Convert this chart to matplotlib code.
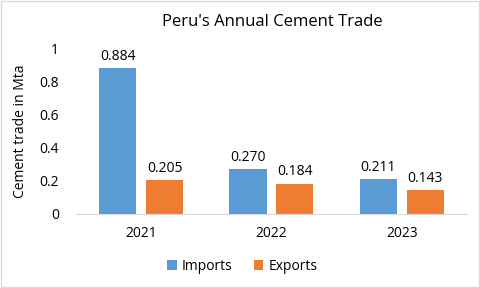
import numpy as np
import matplotlib
matplotlib.use("Agg")
import matplotlib.pyplot as plt

years = ["2021", "2022", "2023"]
imports = [0.884, 0.270, 0.211]
exports = [0.205, 0.184, 0.143]
yticks = [0, 0.2, 0.4, 0.6, 0.8, 1]
ytick_labels = ["0", "0.2", "0.4", "0.6", "0.8", "1"]

plt.rcParams['font.family'] = ['Open Sans', 'DejaVu Sans']

fig = plt.figure(figsize=(4.8, 2.88), dpi=100)
ax = fig.add_axes([0.158, 0.257, 0.815, 0.573])

x = np.arange(len(years))
w = 0.285
b1 = ax.bar(x - 0.18, imports, w, color="#5B9BD5", label="Imports")
b2 = ax.bar(x + 0.18, exports, w, color="#ED7D31", label="Exports")

for bars, vals in ((b1, imports), (b2, exports)):
    for rect, v in zip(bars, vals):
        ax.text(rect.get_x() + rect.get_width() / 2, v + 0.025, f"{v:.3f}",
                ha="center", va="bottom", fontsize=10, color="#000000")

ax.set_xlim(-0.5, 2.5)
ax.set_ylim(0, 1)
ax.set_xticks(x)
ax.set_xticklabels(years, fontsize=10)
ax.set_yticks(yticks)
ax.set_yticklabels(ytick_labels, fontsize=10)
ax.tick_params(length=0, pad=9)
ax.tick_params(axis="y", pad=12)
for s in ["top", "right", "left"]:
    ax.spines[s].set_visible(False)
ax.spines["bottom"].set_color("#D9D9D9")

ax.set_ylabel("Cement trade in Mta", fontsize=10, labelpad=8)
fig.text(0.567, 0.922, "Peru's Annual Cement Trade", ha="center", va="center", fontsize=12)

fig.legend(handles=[b1, b2], loc="center", bbox_to_anchor=(0.505, 0.075), ncol=2,
           frameon=False, fontsize=10, handlelength=0.7, handleheight=0.7,
           columnspacing=1.5, handletextpad=0.4)

fig.patches.append(plt.Rectangle((0.002, 0.003), 0.995, 0.993, transform=fig.transFigure,
                                 fill=False, edgecolor="#D9D9D9", linewidth=1))

fig.savefig("out.png", dpi=100)
